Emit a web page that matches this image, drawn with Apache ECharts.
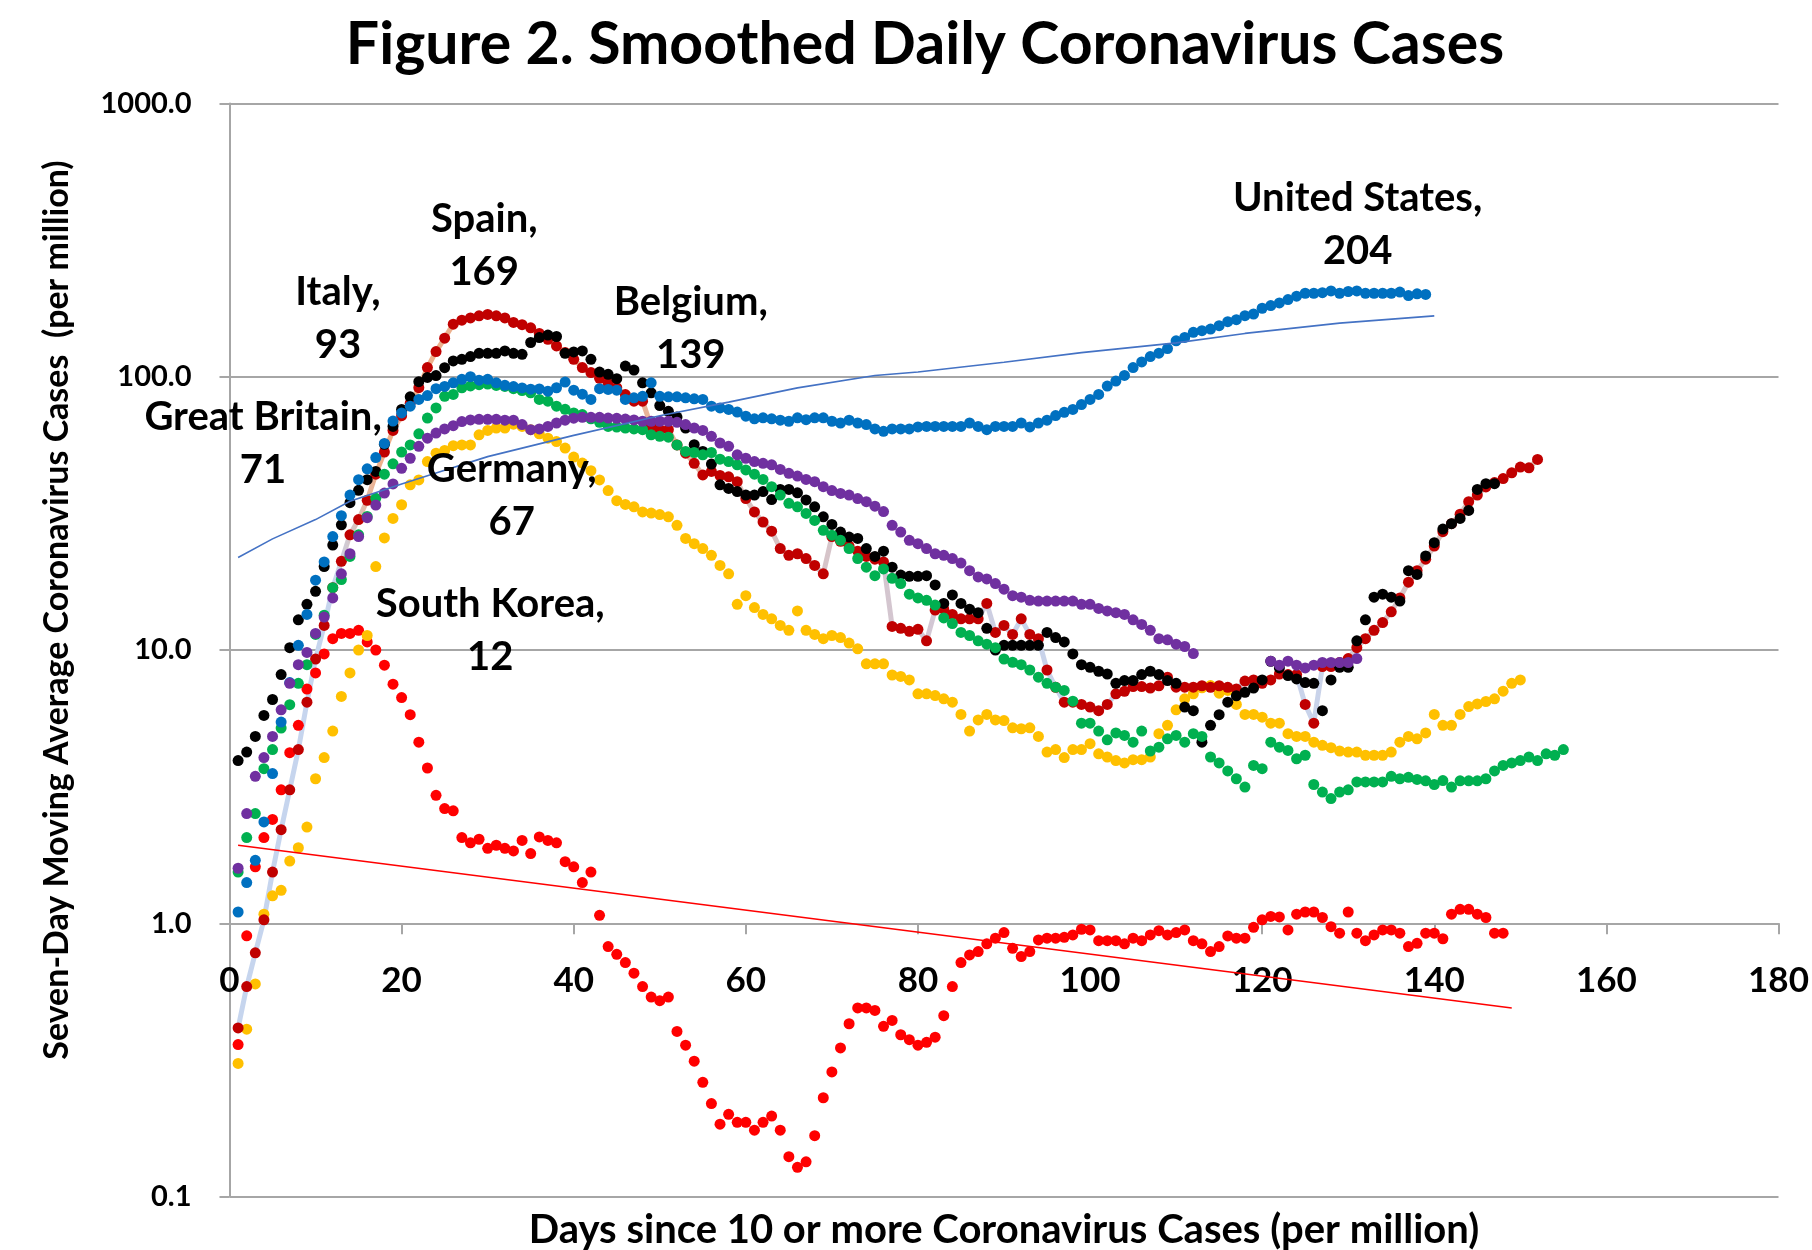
<!DOCTYPE html>
<html>
<head>
<meta charset="utf-8">
<title>Figure 2. Smoothed Daily Coronavirus Cases</title>
<script src="https://cdn.jsdelivr.net/npm/echarts@6.0.0/dist/echarts.min.js"></script>
<style>
  html, body { margin: 0; padding: 0; background: #fff; }
  #chart { width: 1812px; height: 1250px; }
</style>
</head>
<body>
<div id="chart"></div>
<script>
// seven-day average cases per million, one value per day, starting at day 1
const unitedStates = [
  1.10, 1.41, 1.70, 2.35, 3.53, 5.45, 7.6, 10.4, 13.5, 18,
  21, 26, 31, 36.9, 42, 46, 50.6, 57, 68.8, 73.7,
  78, 82.6, 85.3, 90.4, 92.1, 95.0, 97.8, 100, 97.1, 97.8,
  95, 93, 92, 91, 90, 90.2, 88.5, 91.1, 95.6, 89.3,
  86.3, 82.6, 90.4, 89.8, 89.3, 82.6, 83.7, 84.8, 95, 84.8,
  84.4, 84.4, 83.7, 83, 82.6, 78, 76.9, 75.9, 74.2, 71.7,
  70.1, 70.7, 70.1, 69.3, 68.7, 70.7, 69.6, 70.7, 70.7, 68.7,
  67.7, 69.3, 67.7, 66.8, 64.4, 63.1, 64.4, 64.4,
  64.4, 65.5, 65.8, 65.8, 65.8, 65.8, 65.8, 67.7, 65.8, 64.0,
  65.8, 65.8, 65.8, 67.7, 65.5, 67.7, 69.3, 72.1, 74.1, 75.9,
  79.1, 82.6, 86.1, 92.4, 96.4, 101.1, 108, 113.3, 118.5, 121.9,
  126.8, 135.3, 139.2, 145.3, 147.3, 149.4, 153.7, 158.9, 161.7, 167.2,
  169.6, 178, 182, 186.1, 191.5, 197, 202, 202, 203, 206,
  202, 205, 206, 202, 202, 202, 202, 204, 198, 201,
  200
];
const spain = [
  0.414, 0.587, 0.78, 1.03, 1.54, 2.2, 3.08, 4.32, 6.44, 9.27,
  12.3, 16.9, 21.1, 26.4, 30, 35.3, 44, 53, 63.6, 72,
  80, 91.2, 108, 123.6, 138.4, 155.7, 161, 164, 167, 169,
  167, 164, 158, 155, 151, 144, 137, 129.6, 122.5, 115.8,
  108, 103.5, 98.6, 94.5, 91.1, 86, 81.4, 81.4, 65.8, 64,
  64, 56.3, 52.5, 48.2, 43.7, 45, 43.5, 43, 41.3, 35.8,
  32, 29.4, 27.2, 23.5, 22.2, 22.5, 21.6, 20.4, 19, 26,
  25, 24, 23, 22, 21.5, 21, 12.2, 12, 11.7, 11.9,
  10.8, 14.0, 14.1, 13.5, 13.0, 13.0, 13.0, 14.8, 11.6, 12.3,
  11.4, 13.0, 11.4, 11.0, 8.45, 7.3, 6.44, 6.44, 6.32, 6.18,
  6.0, 6.32, 6.91, 7.06, 7.35, 7.35, 7.26, 7.4, 7.95, 7.31,
  7.31, 7.31, 7.4, 7.3, 7.4, 7.3, 7.2, 7.7, 7.77, 7.55,
  7.77, 8.17, 8.13, 8.13, 6.32, 5.4, 8.7, 8.7, 9.0, 9.3,
  10.2, 11.0, 11.8, 12.6, 13.8, 15.5, 17.7, 19.5, 21.5, 24,
  27.1, 29, 31.4, 34.9, 36.9, 39.5, 41, 42.4, 44.5, 46.7,
  46.4, 49.8
];
const belgium = [
  3.94, 4.23, 4.83, 5.76, 6.59, 8.13, 10.2, 12.9, 14.7, 16.4,
  20.2, 24.2, 28.7, 34.6, 38.4, 42, 45, 56.6, 65.8, 75.9,
  84.4, 95.9, 99.4, 101, 107.9, 114.2, 115.8, 118.5, 121.8, 121.8,
  121.8, 124.3, 121.8, 120.8, 133.4, 139, 142, 140.3, 121.8, 123.2,
  124.3, 115.8, 104, 102, 98.3, 109.4, 105.8, 95.0, 87.3, 78.4,
  74.7, 71.2, 64.9, 56.4, 53.3, 47.9, 40.2, 39.0, 38.0, 36.9,
  36.9, 38.0, 35.5, 38.7, 38.7, 37.6, 35.4, 33.4, 30.7, 28.8,
  27.0, 25.9, 25.6, 23.5, 22.0, 23.0, 20.1, 18.8, 18.6, 18.6,
  18.7, 17.3, 14.8, 15.9, 14.8, 14.1, 13.7, 12.0, 10.0, 10.4,
  10.4, 10.4, 10.4, 10.4, 11.6, 11.1, 10.7, 9.67, 8.84, 8.64,
  8.36, 8.17, 7.55, 7.73, 7.73, 8.13, 8.36, 8.13, 7.73, 7.55,
  6.18, 6.0, 4.6, 5.3, 5.8, 6.44, 6.8, 7.0, 7.26, 7.77,
  9.09, 8.6, 8.06, 7.84, 7.6, 7.55, 6.0, 7.77, 8.64, 8.64,
  10.8, 12.9, 15.6, 16.0, 15.6, 15.1, 19.5, 18.9, 22.1, 24.7,
  27.7, 29.0, 30.3, 32.4, 38.7, 40.6, 40.6
];
const italy = [
  1.54, 2.06, 2.52, 3.68, 4.32, 5.18, 6.31, 7.55, 8.84, 11.4,
  13.4, 16.9, 18.1, 22, 26.4, 30.8, 35.9, 44, 48, 53,
  56.3, 61.8, 70.6, 76.9, 84.8, 86.1, 91.1, 92.5, 93.5, 94,
  92.9, 92.1, 90.4, 89, 87.3, 82.6, 81.4, 78, 76, 73.7,
  72.7, 70.1, 68.1, 65.8, 65.4, 64.9, 64.4, 64, 61.3, 60.5,
  60.1, 56.3, 53.3, 52.8, 51.8, 52.8, 49.9, 48.9, 47.6, 45.6,
  44, 42.1, 39.6, 36.9, 34.4, 33.4, 31.6, 29.8, 27.4, 26.3,
  25.2, 23.5, 21.6, 20.1, 18.7, 19.8, 18.3, 17.5,
  16.0, 15.5, 15.2, 14.6, 13.1, 12.5, 11.6, 11.3, 10.8, 10.5,
  10.2, 9.27, 9.02, 8.84, 8.45, 7.95, 7.55, 7.31, 7.11, 6.5,
  5.4, 5.4, 5.05, 4.69, 4.97, 4.87, 4.6, 5.05, 4.27, 4.41,
  4.73, 4.87, 4.6, 4.94, 4.83, 4.06, 3.86, 3.61, 3.38, 3.15,
  3.78, 3.68, 4.6, 4.41, 4.29, 4.0, 4.12, 3.22, 3.02, 2.86,
  3.02, 3.08, 3.29, 3.29, 3.29, 3.29, 3.45, 3.38, 3.42, 3.36,
  3.32, 3.22, 3.33, 3.15, 3.32, 3.32, 3.32, 3.38, 3.61, 3.78,
  3.86, 3.94, 4.06, 3.94, 4.17, 4.12, 4.32
];
const greatBritain = [
  1.59, 2.52, 3.45, 4.04, 4.83, 6.04, 7.55, 8.84, 9.8, 11.5,
  13.2, 15.5, 19, 22.5, 26, 30.5, 33.9, 37.5, 40.5, 46.2,
  50.3, 55.6, 59.6, 62.2, 64.4, 66.2, 68.5, 69.5, 69.8, 69.8,
  69.8, 69.3, 69.3, 66.8, 64, 64.4, 65.8, 67.7, 69.3, 70.5,
  71, 71, 71, 70.6, 70.4, 70, 69.5, 68.7, 68.7, 68.7,
  68.7, 68.1, 66.8, 64.9, 63.6, 60.5, 57.2, 55.6, 51.8, 50.3,
  48.9, 48.2, 47.6, 45.8, 44.3, 43.3, 42.1, 41.3, 39.6, 38.3,
  37.4, 36.9, 35.8, 34.9, 33.6, 32.1, 28.6, 27.0,
  25.2, 24.5, 23.5, 22.5, 22.2, 21.6, 20.8, 19.5, 18.5, 18.2,
  17.5, 16.7, 15.8, 15.6, 15.2, 15.1, 15.1, 15.1, 15.1, 15.1,
  14.7, 14.7, 14.2, 13.9, 13.7, 13.5, 12.9, 12.4, 11.8, 11.0,
  10.9, 10.5, 10.3, 9.7,
  null, null, null, null, null, null, null, null,
  9.1, 8.8, 9.1, 8.8, 8.6, 8.8, 9.0, 9.0, 9.0, 9.0,
  9.3
];
const germany = [
  0.307, 0.41, 0.60, 1.08, 1.26, 1.32, 1.69, 1.89, 2.25, 3.38,
  4.04, 5.05, 6.76, 8.24, 10, 11.3, 20.2, 25.7, 30.3, 34,
  40.2, 41.9, 48.9, 52.5, 53.7, 55.9, 56.3, 56.3, 61.3, 63.6,
  64.9, 64.9, 67, 65.8, 64, 61.8, 59.6, 57.9, 54.8, 50.8,
  48.3, 45.3, 41.9, 38.3, 35.2, 34.1, 33.4, 32, 31.7, 31.3,
  30.7, 28.6, 25.6, 24.5, 23.5, 22.2, 20.4, 19.0, 14.7, 15.8,
  14.3, 13.5, 13.0, 12.3, 11.8, 13.9, 11.8, 11.4, 11.0, 11.3,
  11.1, 10.6, 10.1, 8.9, 8.9, 8.9, 8.1, 8.0,
  7.77, 6.91, 6.91, 6.81, 6.63, 6.44, 5.81, 5.05, 5.55, 5.81,
  5.55, 5.52, 5.19, 5.15, 5.19, 4.83, 4.23, 4.32, 4.04, 4.32,
  4.32, 4.54, 4.17, 4.06, 3.94, 3.86, 3.97, 3.97, 4.06, 4.94,
  5.3, 6.04, 6.63, 6.91, 7.27, 7.41, 6.95, 7.11, 6.32, 5.81,
  5.81, 5.68, 5.4, 5.4, 4.94, 4.83, 4.83, 4.6, 4.48, 4.39,
  4.27, 4.23, 4.23, 4.12, 4.12, 4.12, 4.23, 4.6, 4.83, 4.73,
  4.97, 5.81, 5.3, 5.3, 5.81, 6.21, 6.35, 6.48, 6.63, 7.07,
  7.55, 7.77
];
const southKorea = [
  0.36, 0.90, 1.61, 2.06, 2.40, 3.08, 4.21, 5.3, 7.2, 8.24,
  9.67, 11.0, 11.5, 11.5, 11.8, 10.7, 10.0, 8.8, 7.5, 6.7,
  5.8, 4.6, 3.7, 2.94, 2.63, 2.58, 2.06, 1.97, 2.03, 1.88,
  1.93, 1.88, 1.84, 2.01, 1.80, 2.07, 2.01, 1.97, 1.68, 1.61,
  1.41, 1.54, 1.07, 0.822, 0.77, 0.718, 0.657, 0.587, 0.537, 0.521,
  0.537, 0.402, 0.358, 0.313, 0.262, 0.219, 0.184, 0.20, 0.187, 0.187,
  0.175, 0.187, 0.197, 0.175, 0.14, 0.128, 0.134, 0.167, 0.23, 0.286,
  0.35, 0.429, 0.49, 0.49, 0.48, 0.42, 0.441, 0.391, 0.375, 0.358,
  0.367, 0.383, 0.459, 0.587, 0.718, 0.766, 0.788, 0.841, 0.882, 0.925,
  0.81, 0.756, 0.788, 0.869, 0.882, 0.882, 0.889, 0.907, 0.951, 0.946,
  0.864, 0.864, 0.864, 0.841, 0.882, 0.864, 0.907, 0.94, 0.907, 0.925,
  0.946, 0.864, 0.841, 0.788, 0.822, 0.899, 0.882, 0.882, 0.967, 1.03,
  1.06, 1.055, 0.946, 1.08, 1.10, 1.10, 1.05, 0.972, 0.92, 1.10,
  0.92, 0.864, 0.907, 0.946, 0.946, 0.92, 0.822, 0.845, 0.92, 0.92,
  0.878, 1.08, 1.125, 1.125, 1.08, 1.05, 0.92, 0.92
];
// trend lines: [day, cases]
const usTrend = [
  [1, 21.8], [5, 25.5], [10, 30], [14, 35], [20, 40.5], [24, 44.4], [30, 51],
  [40, 61], [50, 72], [58, 80.7], [66, 91], [75, 101], [80, 104], [90, 113],
  [99, 122.5], [110, 133], [118, 144], [129, 157], [140, 167]
];
const koreaTrend = [[1, 1.93], [149, 0.49]];
// peak labels: text, then the [day, cases] spot where the text sits
const notes = [
  ['Italy,\n93', 12.6, 163],
  ['Spain,\n169', 29.6, 303],
  ['Belgium,\n139', 53.6, 150],
  ['Great Britain,\n71', 3.9, 57],
  ['Germany,\n67', 32.8, 36.7],
  ['South Korea,\n12', 30.3, 11.8],
  ['United States,\n204', 131.1, 361]
];

const font = 'Lato';
const grey = '#a6a6a6';

function pairs(values) {
  return values.map((v, i) => [i + 1, v]).filter(p => p[1] != null);
}

function dots(name, color, values, z) {
  return {
    name: name,
    type: 'scatter',
    symbol: 'circle',
    symbolSize: 11,
    z: z,
    itemStyle: { color: color, opacity: 1 },
    data: pairs(values)
  };
}

const chart = echarts.init(document.getElementById('chart'), null, { renderer: 'canvas' });

chart.setOption({
  animation: false,
  backgroundColor: '#fff',
  title: {
    text: 'Figure 2. Smoothed Daily Coronavirus Cases',
    left: 925,
    top: 15,
    padding: 0,
    textAlign: 'center',
    textStyle: { fontFamily: font, fontWeight: 'bold', fontSize: 59, color: '#000' }
  },
  grid: {
    left: 229.5,
    right: 33.5,
    top: 103.4,
    bottom: 53.4,
    outerBoundsMode: 'none'
  },
  xAxis: {
    type: 'value',
    min: 0,
    max: 180,
    interval: 20,
    // the axis crosses the log scale at 1.0
    offset: -273.3,
    name: 'Days since 10 or more Coronavirus Cases (per million)',
    nameLocation: 'middle',
    nameGap: 287,
    nameTextStyle: { fontFamily: font, fontWeight: 'bold', fontSize: 40, color: '#000' },
    axisLine: { show: true, lineStyle: { color: grey, width: 2 } },
    axisTick: { show: true, length: 11, lineStyle: { color: grey, width: 2 } },
    axisLabel: { margin: 40, fontFamily: font, fontWeight: 'bold', fontSize: 35, color: '#000' },
    splitLine: { show: false }
  },
  yAxis: {
    type: 'log',
    logBase: 10,
    min: 0.1,
    max: 1000,
    name: 'Seven-Day Moving Average Coronavirus Cases  (per million)',
    nameLocation: 'middle',
    nameGap: 155,
    nameTextStyle: {
      fontFamily: font, fontWeight: 'bold', fontSize: 34, color: '#000',
      padding: [0, 0, 0, 80]
    },
    axisLine: { show: true, lineStyle: { color: grey, width: 2 } },
    axisTick: { show: true, length: 10, lineStyle: { color: grey, width: 2 } },
    axisLabel: {
      margin: 38,
      fontFamily: font, fontWeight: 'bold', fontSize: 29, color: '#000',
      formatter: v => v.toFixed(1)
    },
    splitLine: { show: true, lineStyle: { color: grey, width: 2 } }
  },
  series: [
    {
      name: 'Spain line',
      type: 'line',
      showSymbol: false,
      z: 1,
      lineStyle: {
        width: 5,
        color: new echarts.graphic.LinearGradient(0, 0, 1, 0, [
          { offset: 0, color: '#c6d5ee' },
          { offset: 0.075, color: '#c6d5ee' },
          { offset: 0.11, color: '#eeb08a' },
          { offset: 0.33, color: '#e8b49a' },
          { offset: 0.40, color: '#d8c2c2' },
          { offset: 0.55, color: '#d2c8d6' },
          { offset: 0.60, color: '#c9d3ea' },
          { offset: 0.83, color: '#c9d3ea' },
          { offset: 0.87, color: '#d6c6cc' },
          { offset: 1, color: '#dcc0b2' }
        ])
      },
      data: pairs(spain)
    },
    dots('South Korea', '#FF0000', southKorea, 2),
    dots('Germany', '#FFC000', germany, 3),
    dots('Spain', '#C00000', spain, 4),
    dots('Belgium', '#000000', belgium, 5),
    dots('Italy', '#00B050', italy, 6),
    dots('United States', '#0070C0', unitedStates, 7),
    dots('Great Britain', '#7030A0', greatBritain, 8),
    {
      name: 'US trend',
      type: 'line',
      showSymbol: false,
      z: 9,
      lineStyle: { width: 1.6, color: '#4472C4' },
      data: usTrend
    },
    {
      name: 'Korea trend',
      type: 'line',
      showSymbol: false,
      z: 9,
      lineStyle: { width: 1.6, color: '#FF0000' },
      data: koreaTrend
    },
    {
      name: 'labels',
      type: 'scatter',
      symbolSize: 1,
      z: 20,
      // scatter fades items to 0.8 by default, which greys the text
      itemStyle: { color: 'rgba(0,0,0,0)', opacity: 1 },
      label: {
        show: true,
        position: 'inside',
        opacity: 1,
        fontFamily: font,
        fontWeight: 'bold',
        fontSize: 40,
        lineHeight: 53,
        color: '#000',
        textBorderWidth: 0,
        formatter: p => p.data.text
      },
      data: notes.map(n => ({ value: [n[1], n[2]], text: n[0] }))
    }
  ]
});
</script>
</body>
</html>
